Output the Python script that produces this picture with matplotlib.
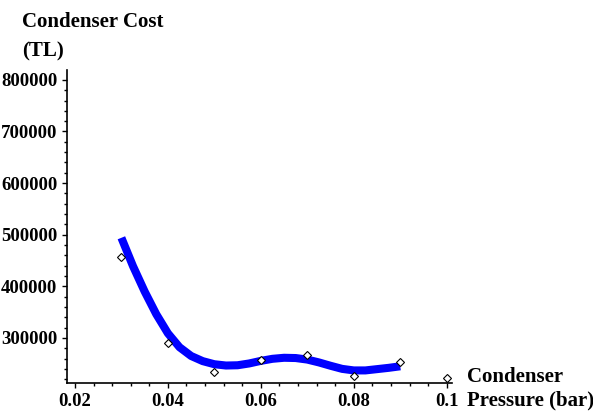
import matplotlib
matplotlib.use('Agg')
import matplotlib.pyplot as plt
from matplotlib.ticker import MultipleLocator, FixedLocator

# measured points (diamonds)
pressure = [0.03, 0.04, 0.05, 0.06, 0.07, 0.08, 0.09, 0.10]
cost = [457000, 290000, 234000, 257000, 267000, 226000, 253000, 222000]

# fitted curve
fit_p = [0.0300, 0.0325, 0.0350, 0.0375, 0.0400, 0.0425, 0.0450, 0.0475,
         0.0500, 0.0525, 0.0550, 0.0575, 0.0600, 0.0625, 0.0650, 0.0675,
         0.0700, 0.0725, 0.0750, 0.0775, 0.0800, 0.0825, 0.0850, 0.0875,
         0.0900]
fit_cost = [494000, 439000, 390000, 346000, 309000, 282000, 265000, 255000,
            249000, 246500, 247000, 250500, 255500, 259500, 261500, 261000,
            258000, 252500, 246000, 240000, 237000, 237000, 239500, 242000,
            245000]

x_ticks = [0.02, 0.04, 0.06, 0.08, 0.1]
x_labels = ['0.02', '0.04', '0.06', '0.08', '0.1']
y_ticks = [300000, 400000, 500000, 600000, 700000, 800000]

plt.rcParams['font.family'] = ['Liberation Serif', 'DejaVu Serif']
plt.rcParams['font.weight'] = 'bold'

fig = plt.figure(figsize=(5.93, 4.17), dpi=100)
ax = fig.add_axes([0.113, 0.0815, 0.649, 0.7505])

ax.plot(fit_p, fit_cost, color='#0000ff', linewidth=5.8, solid_capstyle='butt',
        solid_joinstyle='round', zorder=2)
ax.plot(pressure, cost, linestyle='none', marker='D', markersize=4.5,
        markerfacecolor='white', markeredgecolor='black', markeredgewidth=0.8, zorder=3)

ax.set_xlim(0.0183, 0.1011)
ax.set_ylim(212600, 819000)

ax.xaxis.set_major_locator(FixedLocator(x_ticks))
ax.set_xticklabels(x_labels)
ax.xaxis.set_minor_locator(MultipleLocator(0.004))
ax.yaxis.set_major_locator(FixedLocator(y_ticks))
ax.yaxis.set_minor_locator(MultipleLocator(20000))

for s in ['top', 'right']:
    ax.spines[s].set_visible(False)
for s in ['left', 'bottom']:
    ax.spines[s].set_linewidth(1.2)

ax.tick_params(which='major', length=3.5, width=1.0, labelsize=13.5, pad=3.5)
ax.tick_params(which='minor', length=2, width=1.0)
for lbl in ax.get_xticklabels() + ax.get_yticklabels():
    lbl.set_fontweight('bold')

fig.text(22 / 593, 1 - 27 / 417, 'Condenser Cost', fontsize=15, fontweight='bold', va='baseline')
fig.text(22 / 593, 1 - 56 / 417, '(TL)', fontsize=15, fontweight='bold', va='baseline')
fig.text(467 / 593, 1 - 382 / 417, 'Condenser', fontsize=15, fontweight='bold', va='baseline')
fig.text(467 / 593, 1 - 405 / 417, 'Pressure (bar)', fontsize=15, fontweight='bold', va='baseline')

fig.savefig('out.png', dpi=100)
